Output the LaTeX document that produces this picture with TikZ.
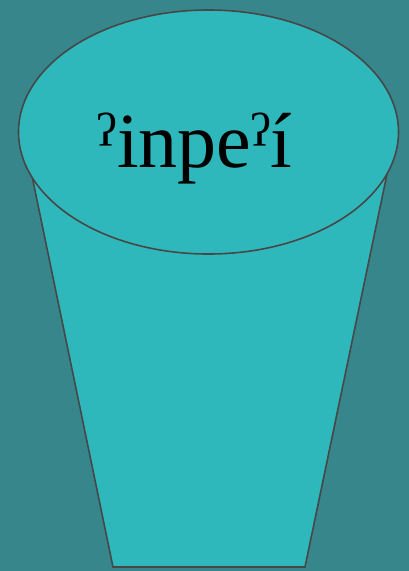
\documentclass[tikz,border=0pt]{standalone}
\usepackage{fontspec}
\setmainfont{Liberation Serif}
\usepackage{tikz}
\usepackage{xcolor}

\definecolor{bgteal}{HTML}{36868C}
\definecolor{cupteal}{HTML}{2EB8BC}

\begin{document}
\begin{tikzpicture}[x=1pt, y=-1pt,
  cupline/.style={draw=black!72, line width=1.6pt}]

% background and fixed margins
\fill[bgteal] (0,0) rectangle (409,571);
\useasboundingbox (0,0) rectangle (409,571);

% cup body
\coordinate (TL) at (32,176);
\coordinate (BL) at (113,567);
\coordinate (BR) at (305,567);
\coordinate (TR) at (387,174);
\filldraw[fill=cupteal, cupline] (TL) -- (BL) -- (BR) -- (TR) -- cycle;

% cup rim
\coordinate (R) at (208.5,132);
\filldraw[fill=cupteal, cupline] (R) ellipse [x radius=190, y radius=122];

% label
\node[anchor=base, inner sep=0pt, font=\fontsize{78}{82}\selectfont] (word) at (195,167) {ˀinpeˀí};

\end{tikzpicture}
\end{document}
